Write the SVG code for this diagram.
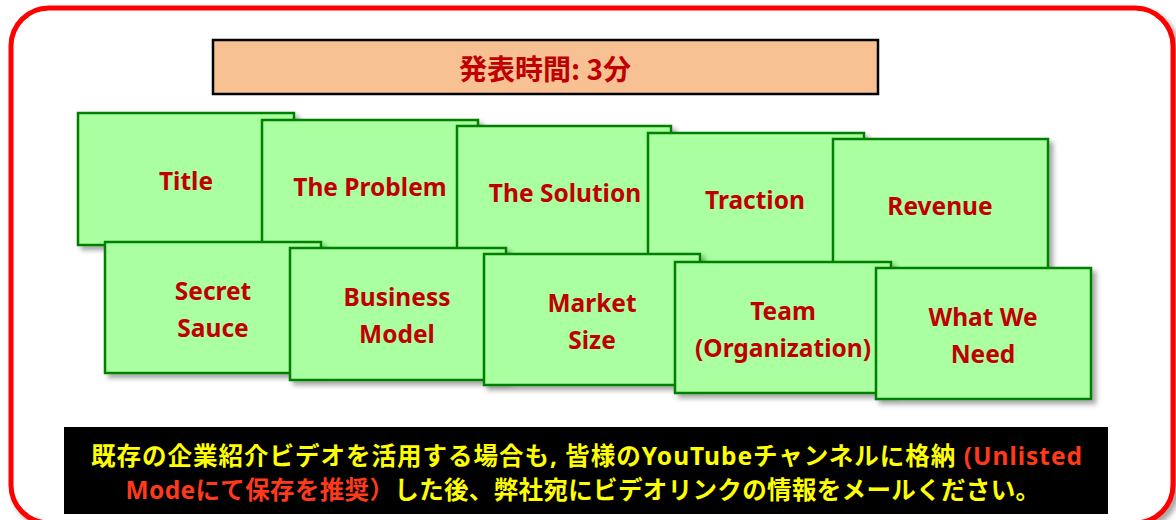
<svg xmlns="http://www.w3.org/2000/svg" width="1176" height="520" viewBox="0 0 1176 520">
<defs>
<filter id="sh" x="-10%" y="-10%" width="130%" height="130%">
<feDropShadow dx="4" dy="4" stdDeviation="2.5" flood-color="#000" flood-opacity="0.35"/>
</filter>
<style>
.card{fill:#AAFFA0;stroke:#008000;stroke-width:2.5;filter:url(#sh)}
.lbl{font-family:"Noto Sans","Open Sans","Noto Sans CJK JP",sans-serif;font-weight:bold;font-size:24.5px;fill:#C00000;text-anchor:middle}
.note{font-family:"Noto Sans","Noto Sans CJK JP",sans-serif;font-weight:bold;font-size:24.5px;text-anchor:middle}
.y{fill:#FFFF00}
.r{fill:#FF3A1A}
</style>
</defs>
<rect width="1176" height="520" fill="#FFFFFF"/>
<rect id="frame" x="11" y="8" width="1162" height="515" rx="38" ry="38" fill="#FFFFFF" stroke="#FF0000" stroke-width="5" filter="url(#sh)"/>
<g id="header">
<rect x="213" y="40" width="665" height="54" fill="#F8C194" stroke="#000" stroke-width="2.5"/>
<text x="545" y="80" class="lbl" style="font-family:'Noto Sans CJK JP',sans-serif;font-size:28px">発表時間: 3分</text>
</g>
<g id="connectors"/>
<g id="n-title"><rect class="card" x="78" y="113" width="216" height="132"/><text class="lbl" x="186" y="190">Title</text></g>
<g id="n-problem"><rect class="card" x="262" y="120" width="216" height="132"/><text class="lbl" x="370" y="196">The Problem</text></g>
<g id="n-solution"><rect class="card" x="457" y="126" width="214" height="132"/><text class="lbl" x="565" y="202">The Solution</text></g>
<g id="n-traction"><rect class="card" x="648" y="133" width="216" height="132"/><text class="lbl" x="755" y="209">Traction</text></g>
<g id="n-revenue"><rect class="card" x="833" y="139" width="215" height="132"/><text class="lbl" x="940" y="215">Revenue</text></g>
<g id="n-secret"><rect class="card" x="105" y="242" width="216" height="131"/><text class="lbl" x="213" y="300">Secret</text><text class="lbl" x="213" y="337">Sauce</text></g>
<g id="n-business"><rect class="card" x="290" y="248" width="216" height="132"/><text class="lbl" x="397" y="306">Business</text><text class="lbl" x="397" y="343">Model</text></g>
<g id="n-market"><rect class="card" x="484" y="254" width="216" height="131"/><text class="lbl" x="592" y="312">Market</text><text class="lbl" x="592" y="349">Size</text></g>
<g id="n-team"><rect class="card" x="675" y="262" width="216" height="131"/><text class="lbl" x="783" y="320">Team</text><text class="lbl" x="783" y="357">(Organization)</text></g>
<g id="n-need"><rect class="card" x="876" y="268" width="215" height="131"/><text class="lbl" x="983" y="326">What We</text><text class="lbl" x="983" y="363">Need</text></g>
<g id="notice">
<rect x="64" y="427" width="1044" height="87" fill="#000"/>
<text class="note" x="587" y="465" letter-spacing="1"><tspan class="y">既存の企業紹介ビデオを活用する場合も, 皆様のYouTubeチャンネルに格納 </tspan><tspan class="r">(Unlisted</tspan></text>
<text class="note" x="583" y="499" letter-spacing="0.35"><tspan class="r">Modeにて保存を推奨）</tspan><tspan class="y">した後、弊社宛にビデオリンクの情報をメールください。</tspan></text>
</g>
</svg>
